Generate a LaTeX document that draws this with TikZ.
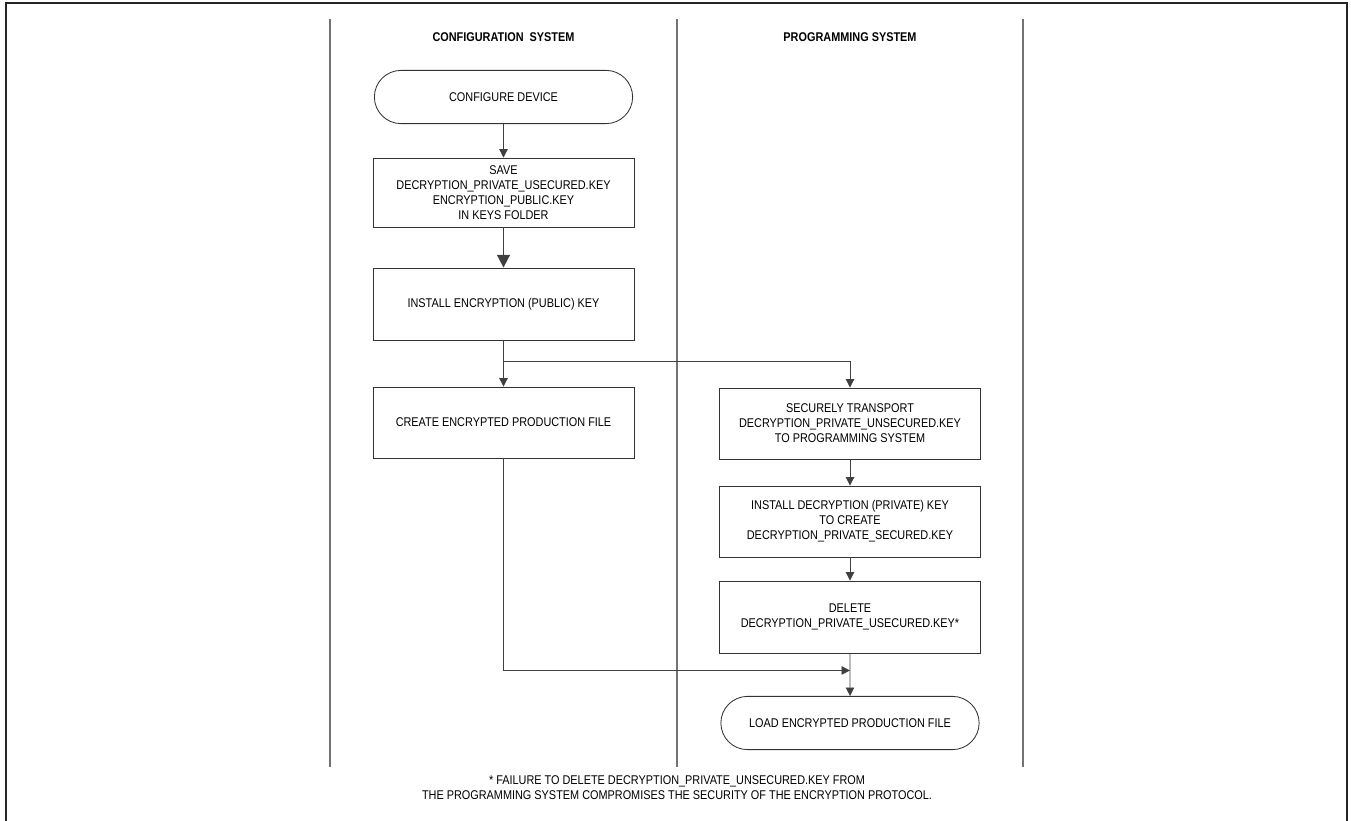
\documentclass[tikz,border=0pt]{standalone}
\usepackage{fontspec}
\setmainfont[FakeStretch=0.86]{Liberation Sans}
\usepackage{tikz}
\usetikzlibrary{shapes.misc,arrows.meta,calc}

\begin{document}
\begin{tikzpicture}[x=0.025cm,y=-0.025cm,
				txt/.style={font=\fontsize{9}{10.7}\selectfont},
				box/.style={txt,draw=black!80,line width=0.6pt,minimum width=6.525cm,minimum height=1.775cm,align=center,inner sep=1pt},
				term/.style={box,rounded rectangle,rounded rectangle arc length=180,minimum height=1.33cm},
				arr/.style={draw=black!75,line width=0.6pt,-{Triangle[length=6pt,width=6pt]}},
				lane/.style={draw=black!55,line width=0.9pt}]
				\useasboundingbox (0,0) rectangle (1351,821);
				\draw[line width=1.5pt,black!85] (6,821) -- (6,3) -- (1347,3) -- (1347,821);
				\foreach \x in {330,677,1023}
				\draw[lane] (\x,19) -- (\x,767);
				\node[txt,font=\fontsize{9}{10.7}\selectfont\bfseries] (confhead) at (503.5,37) {CONFIGURATION~~SYSTEM};
				\node[txt,font=\fontsize{9}{10.7}\selectfont\bfseries] (proghead) at (850,37) {PROGRAMMING SYSTEM};
				\node[term] (configure) at (503.5,97) {CONFIGURE DEVICE};
				\node[box,minimum height=1.725cm] (save) at (503.5,192.5) {SAVE\\DECRYPTION\_PRIVATE\_USECURED.KEY\\ENCRYPTION\_PUBLIC.KEY\\IN KEYS FOLDER};
				\node[box,minimum height=1.8cm] (pubkey) at (503.5,304) {INSTALL ENCRYPTION (PUBLIC) KEY};
				\node[box] (create) at (503.5,422.5) {CREATE ENCRYPTED PRODUCTION FILE};
				\node[box] (transport) at (850,423.5) {SECURELY TRANSPORT\\DECRYPTION\_PRIVATE\_UNSECURED.KEY\\TO PROGRAMMING SYSTEM};
				\node[box] (privkey) at (850,521.5) {INSTALL DECRYPTION (PRIVATE) KEY\\TO CREATE\\DECRYPTION\_PRIVATE\_SECURED.KEY};
				\node[box,minimum height=1.8cm] (delete) at (850,617) {DELETE\\DECRYPTION\_PRIVATE\_USECURED.KEY*};
				\node[term] (load) at (850,723) {LOAD ENCRYPTED PRODUCTION FILE};
				\coordinate (fork) at ($(pubkey.south)!0.45!(create.north)$);
				\coordinate (join) at ($(delete.south)!0.4!(load.north)$);
				\draw[arr] (configure) -- (save);
				\draw[arr,line width=1.4pt,-{Triangle[length=9pt,width=9pt]}] (save) -- (pubkey);
				\draw[arr] (pubkey) -- (create);
				\draw[arr] (fork) -| (transport);
				\draw[arr] (transport) -- (privkey);
				\draw[arr] (privkey) -- (delete);
				\draw[arr] (delete) -- (load);
				\draw[arr] (create) |- (join);
				\node[txt,align=center,font=\fontsize{9}{10.5}\selectfont] (note) at (677,788) {* FAILURE TO DELETE DECRYPTION\_PRIVATE\_UNSECURED.KEY FROM\\THE PROGRAMMING SYSTEM COMPROMISES THE SECURITY OF THE ENCRYPTION PROTOCOL.};
				\end{tikzpicture}
\end{document}
